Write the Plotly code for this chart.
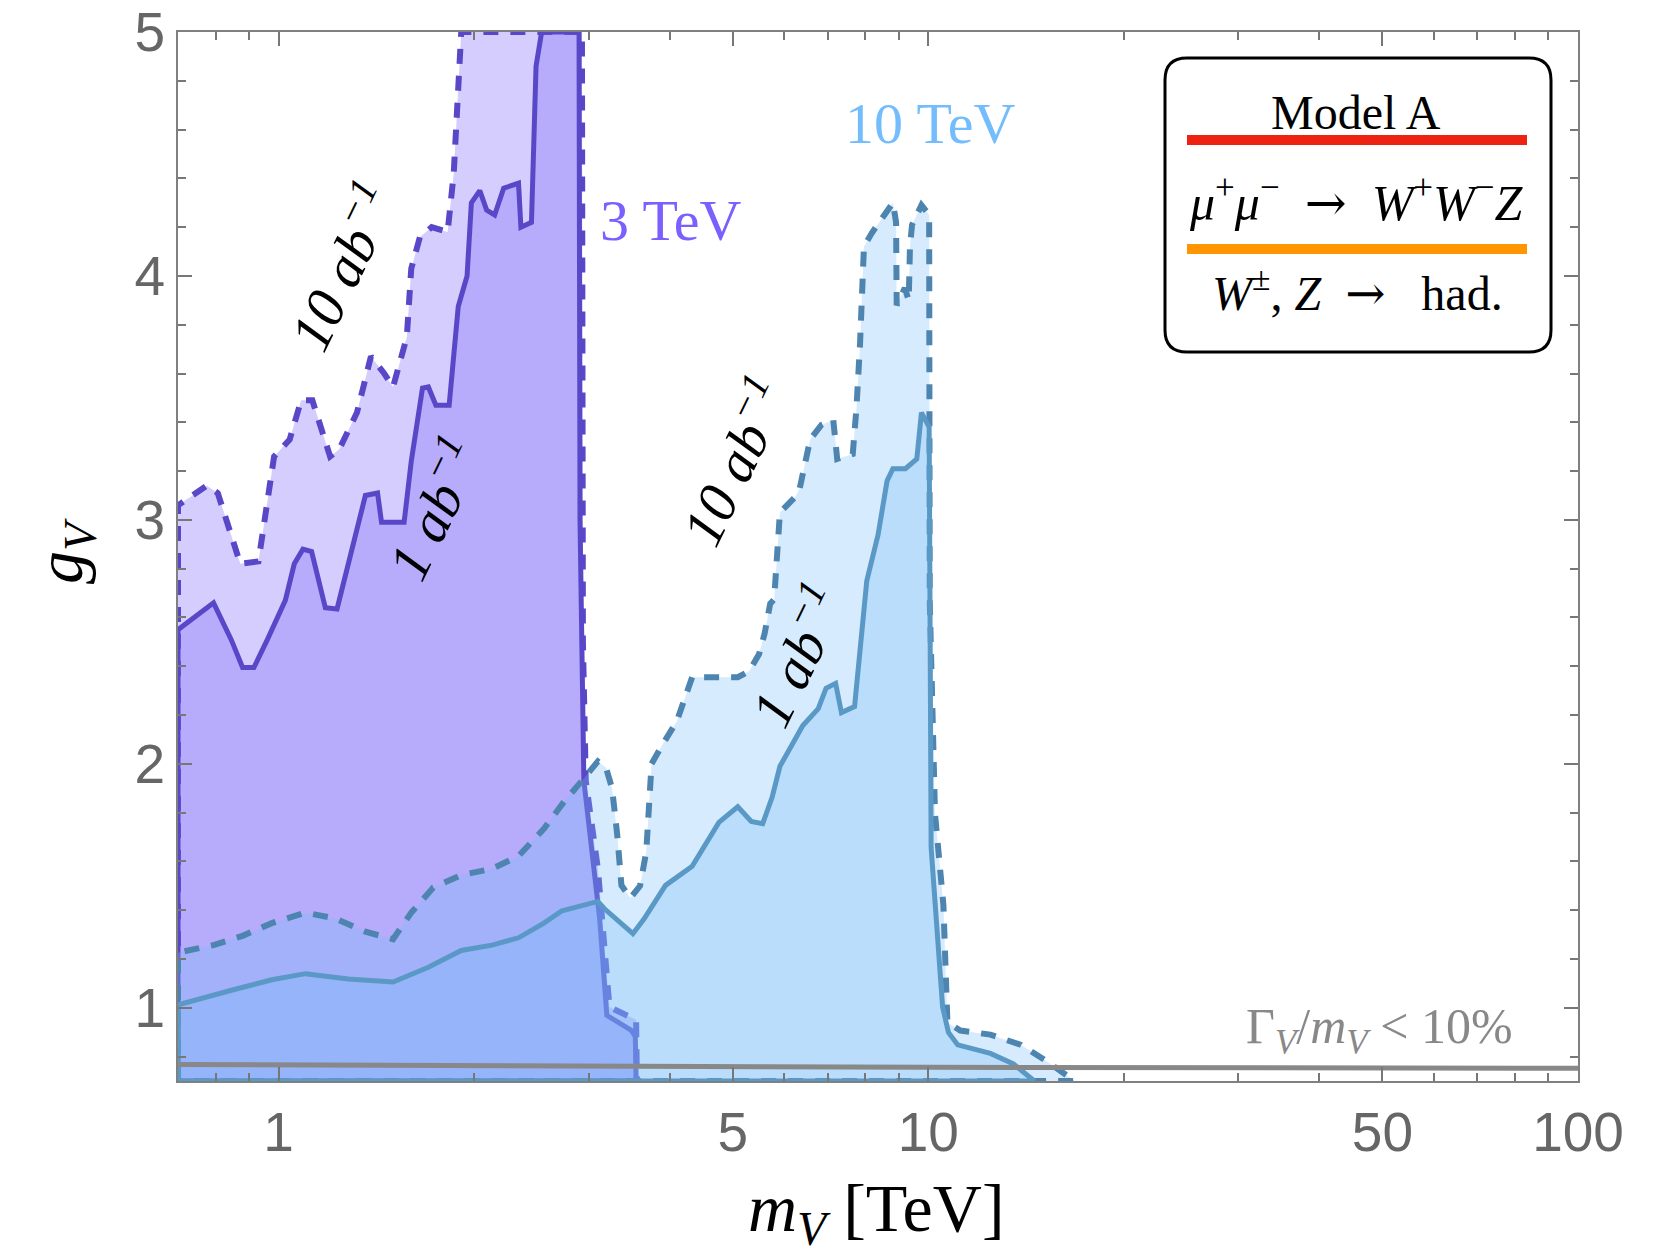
import numpy as np
import plotly.graph_objects as go

# ---------------- data ----------------
# 3 TeV collider, 10 ab^-1 (dashed boundary)
x_3tev_10ab = [0.70, 0.775, 0.806, 0.873, 0.931, 0.984, 1.04, 1.083, 1.127, 1.20, 1.24, 1.32,
               1.387, 1.454, 1.50, 1.575, 1.60, 1.65, 1.72, 1.82, 1.86, 1.91, 2.42, 2.93,
               2.94, 2.97, 3.10, 3.15, 3.23, 3.55, 3.56]
g_3tev_10ab = [3.06, 3.14, 3.11, 2.82, 2.83, 3.26, 3.33, 3.49, 3.49, 3.26, 3.29, 3.44,
               3.67, 3.60, 3.545, 3.75, 4.03, 4.16, 4.20, 4.18, 4.42, 5.0, 5.0, 5.0,
               2.5, 1.93, 1.57, 1.33, 1.003, 0.951, 0.70]

# 3 TeV collider, 1 ab^-1 (solid boundary)
x_3tev_1ab = [0.70, 0.794, 0.846, 0.88, 0.916, 0.96, 1.024, 1.057, 1.09, 1.124, 1.154, 1.18,
              1.23, 1.26, 1.32, 1.36, 1.42, 1.44, 1.56, 1.60, 1.665, 1.70, 1.746, 1.83,
              1.89, 1.95, 1.98, 2.04, 2.09, 2.15, 2.22, 2.34, 2.36, 2.45, 2.49, 2.54,
              2.90, 2.91, 2.95, 3.05, 3.12, 3.20, 3.49, 3.54, 3.55]
g_3tev_1ab = [2.55, 2.66, 2.507, 2.395, 2.395, 2.507, 2.67, 2.82, 2.88, 2.87, 2.75, 2.64,
              2.635, 2.75, 2.96, 3.10, 3.11, 2.99, 2.99, 3.24, 3.54, 3.545, 3.47, 3.47,
              3.875, 4.0, 4.30, 4.35, 4.27, 4.25, 4.36, 4.38, 4.20, 4.22, 4.86, 5.0,
              5.0, 3.0, 1.93, 1.57, 1.364, 0.969, 0.908, 0.883, 0.70]

# 10 TeV collider, 10 ab^-1 (dashed boundary)
x_10tev_10ab = [0.70, 0.794, 0.88, 0.976, 1.10, 1.22, 1.36, 1.50, 1.60, 1.73, 1.91, 2.13,
                2.34, 2.56, 2.75, 2.93, 3.10, 3.19, 3.26, 3.32, 3.37, 3.48, 3.60, 3.68,
                3.75, 3.88, 4.10, 4.33, 4.73, 5.09, 5.30, 5.49, 5.60, 5.71, 5.79, 5.91,
                6.24, 6.34, 6.58, 6.85, 7.14, 7.24, 7.65, 7.75, 7.85, 7.91, 7.96, 8.18,
                8.53, 8.82, 8.92, 8.94, 9.20, 9.33, 9.37, 9.44, 9.76, 10.03, 10.05, 10.15,
                10.24, 10.55, 10.70, 11.20, 12.46, 13.89, 15.27, 16.8]
g_10tev_10ab = [1.226, 1.257, 1.295, 1.347, 1.39, 1.367, 1.312, 1.281, 1.39, 1.493, 1.544, 1.57,
                1.622, 1.734, 1.845, 1.931, 2.01, 1.985, 1.90, 1.71, 1.502, 1.45, 1.50, 1.64,
                2.00, 2.07, 2.174, 2.355, 2.355, 2.355, 2.38, 2.45, 2.536, 2.657, 2.674, 3.03,
                3.094, 3.13, 3.33, 3.39, 3.41, 3.25, 3.27, 3.455, 3.72, 4.03, 4.12, 4.175,
                4.24, 4.30, 4.22, 3.88, 3.95, 3.90, 4.12, 4.21, 4.29, 4.25, 2.67, 2.2,
                1.795, 1.42, 0.94, 0.907, 0.89, 0.848, 0.778, 0.70]

# 10 TeV collider, 1 ab^-1 (solid boundary)
x_10tev_1ab = [0.70, 0.846, 0.976, 1.10, 1.28, 1.50, 1.70, 1.91, 2.13, 2.34, 2.56, 2.73,
               3.10, 3.17, 3.33, 3.51, 3.65, 3.78, 3.94, 4.33, 4.76, 5.09, 5.34, 5.56,
               5.75, 5.91, 6.24, 6.41, 6.77, 6.96, 7.20, 7.35, 7.70, 7.86, 8.04, 8.37,
               8.64, 8.82, 9.22, 9.60, 9.76, 10.03, 10.10, 10.52, 10.74, 11.1, 12.46, 13.52, 14.56]
g_10tev_1ab = [1.012, 1.072, 1.115, 1.14, 1.118, 1.106, 1.166, 1.235, 1.257, 1.287, 1.347, 1.398,
               1.436, 1.407, 1.355, 1.304, 1.364, 1.425, 1.502, 1.58, 1.76, 1.824, 1.764, 1.755,
               1.864, 1.99, 2.105, 2.157, 2.226, 2.31, 2.33, 2.21, 2.235, 2.50, 2.75, 2.94,
               3.16, 3.21, 3.21, 3.25, 3.44, 3.38, 1.657, 1.003, 0.899, 0.848, 0.813, 0.77, 0.70]

# width constraint Gamma_V / m_V < 10%
x_width = [0.70, 2.0, 10.0, 100.0]
g_width = [0.768, 0.762, 0.756, 0.752]

x_tickvals = [1, 5, 10, 50, 100]
x_ticktext = ["1", "5", "10", "50", "100"]
x_minor = [0.8, 0.9, 2, 3, 4, 6, 7, 8, 9, 20, 30, 40, 60, 70, 80, 90]
y_tickvals = [1, 2, 3, 4, 5]
y_ticktext = ["1", "2", "3", "4", "5"]
y_minor = [round(v, 1) for v in np.arange(0.8, 5.0, 0.2) if abs(v - round(v)) > 1e-6]

XMIN, XMAX, GMIN, GMAX = 0.7, 100.0, 0.7, 5.0

# ---------------- layout geometry ----------------
W, H = 1670, 1260
L, R, T, B = 178, 92, 32, 179
PW, PH = W - L - R, H - T - B


def px(X):
    return (X - L) / PW


def py(Y):
    return (H - B - Y) / PH


def region(xs, gs):
    return [xs[0]] + list(xs) + [xs[0]], [GMIN] + list(gs) + [GMIN]


purple_line = "#5848c8"
purple_fill = "rgba(120,100,250,0.32)"
blue_line_solid = "#5a98c6"
blue_line_dash = "#4d85b0"
blue_fill = "rgba(118,188,248,0.30)"
DASH = "15px,12px"

fig = go.Figure()
for xs, gs, fill, col, dash, lw in [
    (x_3tev_10ab, g_3tev_10ab, purple_fill, purple_line, DASH, 6),
    (x_3tev_1ab, g_3tev_1ab, purple_fill, purple_line, "solid", 5),
    (x_10tev_10ab, g_10tev_10ab, blue_fill, blue_line_dash, DASH, 6),
    (x_10tev_1ab, g_10tev_1ab, blue_fill, blue_line_solid, "solid", 5),
]:
    rx, ry = region(xs, gs)
    fig.add_trace(go.Scatter(x=rx, y=ry, mode="lines", fill="toself", fillcolor=fill,
                             line=dict(color=col, width=lw, dash=dash),
                             hoverinfo="skip", showlegend=False))

fig.add_trace(go.Scatter(x=x_width, y=g_width, mode="lines",
                         line=dict(color="#888888", width=5),
                         hoverinfo="skip", showlegend=False))

serif = "Liberation Serif"
ann = []


def add_text(text, X, Y, size, color="black", angle=0, xanchor="center", yanchor="middle"):
    ann.append(dict(text=text, x=px(X), y=py(Y), xref="paper", yref="paper",
                    showarrow=False, textangle=angle, xanchor=xanchor, yanchor=yanchor,
                    font=dict(family=serif, size=size, color=color)))


ARROW = '<span style="font-family:DejaVu Serif">→</span>'

add_text("3 TeV", 598, 220, 58, "#7b5fff", xanchor="left")
add_text("10 TeV", 931, 124, 58, "#74bdfc")
add_text("<i>10 ab<sup>−1</sup></i>", 340, 266, 57, angle=-64)
add_text("<i>1 ab<sup>−1</sup></i>", 432, 508, 57, angle=-64)
add_text("<i>10 ab<sup>−1</sup></i>", 732, 461, 57, angle=-64)
add_text("<i>1 ab<sup>−1</sup></i>", 795, 655, 57, angle=-64)
add_text("Γ<sub><i>V</i></sub>/<i>m</i><sub><i>V</i></sub> < 10%", 1515, 1030, 50, "#888888",
         xanchor="right")
# legend box texts
add_text("Model A", 1356, 112, 48)
add_text("<i>μ</i><sup>+</sup><i>μ</i><sup>−</sup>  " + ARROW +
         "  <i>W</i><sup>+</sup><i>W</i><sup>−</sup><i>Z</i>", 1356, 200, 50)
add_text("<i>W</i><sup>±</sup>, <i>Z</i>  " + ARROW + "   had.", 1357, 290, 48)
# axis titles
add_text("<i>m</i><sub><i>V</i></sub> [TeV]", 876, 1212, 68)
add_text("<i>g</i><sub><i>V</i></sub>", 64, 551, 66, angle=-90)

# legend box with rounded corners
x0, x1 = px(1165), px(1551)
y0, y1 = py(352), py(58)
rx_, ry_ = 22 / PW, 22 / PH
path = (f"M {x0+rx_},{y1} L {x1-rx_},{y1} Q {x1},{y1} {x1},{y1-ry_} "
        f"L {x1},{y0+ry_} Q {x1},{y0} {x1-rx_},{y0} L {x0+rx_},{y0} "
        f"Q {x0},{y0} {x0},{y0+ry_} L {x0},{y1-ry_} Q {x0},{y1} {x0+rx_},{y1} Z")
shapes = [
    dict(type="path", path=path, xref="paper", yref="paper",
         line=dict(color="black", width=3), fillcolor="white"),
    dict(type="line", xref="paper", yref="paper", x0=px(1187), x1=px(1527), y0=py(140), y1=py(140),
         line=dict(color="#ee2211", width=10)),
    dict(type="line", xref="paper", yref="paper", x0=px(1187), x1=px(1527), y0=py(249), y1=py(249),
         line=dict(color="#ff9500", width=10)),
]

axis_common = dict(showgrid=False, zeroline=False, showline=True, linecolor="#808080",
                   linewidth=2, mirror="ticks", ticks="inside", tickcolor="#777777",
                   tickwidth=1.5, ticklen=14, automargin=False,
                   tickfont=dict(family="Liberation Sans", size=55, color="#666666"))

fig.update_layout(
    width=W, height=H, autosize=False,
    margin=dict(l=L, r=R, t=T, b=B, pad=0),
    paper_bgcolor="white", plot_bgcolor="white",
    showlegend=False,
    xaxis=dict(type="log", range=[np.log10(XMIN), np.log10(XMAX)],
               tickmode="array", tickvals=x_tickvals, ticktext=x_ticktext,
               ticklabelstandoff=2,
               minor=dict(ticks="inside", ticklen=8, tickwidth=1.5, tickcolor="#777777",
                          tickmode="array", tickvals=x_minor),
               **axis_common),
    yaxis=dict(range=[GMIN, GMAX], tickmode="array", tickvals=y_tickvals, ticktext=y_ticktext,
               ticklabelstandoff=0,
               minor=dict(ticks="inside", ticklen=8, tickwidth=1.5, tickcolor="#777777",
                          tickmode="array", tickvals=y_minor),
               **axis_common),
    annotations=ann,
    shapes=shapes,
)

fig.write_html("out.html")
